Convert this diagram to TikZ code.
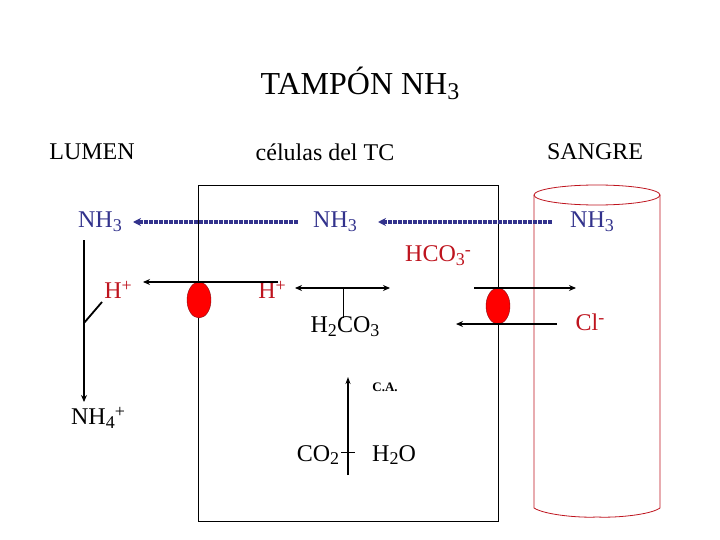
\documentclass[tikz,border=0pt]{standalone}
\usepackage{fontspec}
\setmainfont{Liberation Serif}
\usetikzlibrary{arrows.meta,shapes.geometric}
\definecolor{blu}{RGB}{50,50,140}
\definecolor{rd}{RGB}{190,20,30}
\newcommand{\sbx}[1]{\raisebox{-0.35ex}{\fontsize{18}{20}\selectfont #1}}
\newcommand{\spx}[1]{\raisebox{0.6ex}{\fontsize{18}{20}\selectfont #1}}
\begin{document}
\begin{tikzpicture}[x=1pt,y=-1pt,
 lab/.style={font=\fontsize{24}{28}\selectfont,inner sep=0pt},
 b/.style={lab,text=blu}, r/.style={lab,text=rd},
 dots/.style={blu,line width=3.5pt,dash pattern=on 1.6pt off 0.9pt,-{Stealth[length=8pt,width=8pt]}},
 arr/.style={line width=1.8pt,-{Stealth[length=7pt,width=6pt]}},
 oval/.style={ellipse,draw=rd!70!black,fill=red,minimum width=24pt,minimum height=36pt,inner sep=0pt}]
\useasboundingbox (0,0) rectangle (720,540);
\node[lab,font=\fontsize{32}{36}\selectfont] (t) at (360,83) {TAMPÓN NH\raisebox{-0.35ex}{\fontsize{24}{26}\selectfont 3}};
\node[lab] (l) at (92,152) {LUMEN};
\node[lab] (c) at (325,152) {células del TC};
\node[lab] (s) at (595,152) {SANGRE};
\draw[line width=1pt] (198,186) rectangle (498,521);
% cylinder
\draw[rd,line width=0.8pt] (534,195) -- (534,508) .. controls (545,515) and (580,518) .. (597,517) .. controls (615,518) and (650,515) .. (660,508) -- (660,195);
\draw[rd,line width=0.8pt] (597,195) ellipse (63 and 10);
\node[b] (n1) at (100,222) {NH\sbx{3}};
\node[b] (n2) at (335,222) {NH\sbx{3}};
\node[b] (n3) at (592,222) {NH\sbx{3}};
\draw[dots] (552,222) coordinate (a1) -- (378,222);
\draw[dots] (298,222) coordinate (a2) -- (133,222);
\node[r] (hco) at (438,256) {HCO\sbx{3}\spx{-}};
\node[r] (h1) at (118,290) {H\spx{+}};
\node[r] (h2) at (272,290) {H\spx{+}};
\node[lab] (h2c) at (345,327) {H\sbx{2}CO\sbx{3}};
\node[r] (cl) at (590,322) {Cl\spx{-}};
\node[lab] (nh4) at (98,418) {NH\sbx{4}\spx{+}};
\node[lab,font=\bfseries\fontsize{13}{15}\selectfont] (ca) at (385,387) {C.A.};
\node[lab] (co2) at (318,455) {CO\sbx{2}};
\node[lab] (h2o) at (394,455) {H\sbx{2}O};
\node[oval] (o1) at (199,300) {};
\node[oval] (o2) at (498,306) {};
\draw[arr] (278,282) coordinate (p1) -- (143,282) coordinate (p2);
\draw[line width=1.8pt,{Stealth[length=7pt,width=6pt]}-{Stealth[length=7pt,width=6pt]}] (295,288) -- (390,288);
\draw[line width=0.8pt] (343,288) -- (343,318);
\draw[arr] (474,288) -- (576,288);
\draw[arr] (557,324) -- (456,324);
\draw[line width=1.8pt,-{Stealth[length=7pt,width=6pt]}] (84,240) -- (84,402);
\draw[line width=1.8pt] (102,302) -- (84,323);
\draw[line width=1.8pt,-{Stealth[length=7pt,width=5pt]}] (348,475) -- (348,377);
\draw[line width=0.8pt] (341,452) -- (355,452);
\end{tikzpicture}
\end{document}
